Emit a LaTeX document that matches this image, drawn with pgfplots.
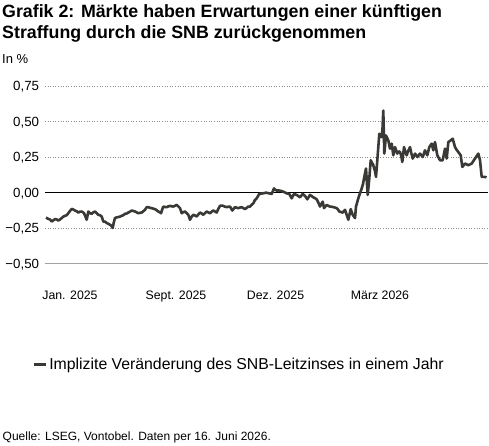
\documentclass[border=0pt]{standalone}
\usepackage{pgfplots}
\pgfplotsset{compat=1.18}
\usepackage{fontspec}
\setmainfont{Liberation Sans}
\definecolor{linegray}{HTML}{3B3936}
\definecolor{gridgray}{HTML}{8C8C8C}
\definecolor{basegray}{HTML}{A3A3A3}

% Implied one-year change of the SNB policy rate, in percentage points
\begin{document}
\begin{tikzpicture}
\useasboundingbox (0pt,0pt) rectangle (489pt,-445pt);
\node[anchor=base west,inner sep=0pt,font=\fontsize{17.8}{20}\bfseries] at (2pt,-17.3pt) {Grafik 2: Märkte haben Erwartungen einer künftigen};
\node[anchor=base west,inner sep=0pt,font=\fontsize{17.8}{20}\bfseries] at (2pt,-38pt) {Straffung durch die SNB zurückgenommen};
\node[anchor=base west,inner sep=0pt,font=\fontsize{13}{15}\selectfont] at (2pt,-63pt) {In \%};
\node[anchor=base west,inner sep=0pt,font=\fontsize{12}{14}\selectfont] at (2.5pt,-440pt) {Quelle: LSEG, Vontobel. Daten per 16. Juni 2026.};
\begin{axis}[
  at={(45pt,-263.5pt)}, anchor=south west,
  scale only axis, width=443pt, height=177.5pt,
  xmin=45, xmax=488, ymin=-0.5, ymax=0.75,
  axis line style={draw=none},
  clip=false,
  major tick length=0pt,
  ytick={-0.5,-0.25,0,0.25,0.5,0.75},
  yticklabels={{−0,50},{−0,25},{0,00},{0,25},{0,50},{0,75}},
  yticklabel style={font=\fontsize{13.3}{15}\selectfont, anchor=base east, inner sep=0pt, xshift=-5.7pt, yshift=-4.7pt},
  xtick={70,176,275.5,380},
  xticklabels={Jan. 2025,Sept. 2025,Dez. 2025,März 2026},
  xticklabel style={font=\fontsize{12.3}{14}\selectfont, anchor=base, inner sep=0pt, yshift=-35.8pt},
  legend style={draw=none, fill=none, at={(axis description cs:-0.029,-0.568)}, anchor=west,
    inner sep=0pt, font=\fontsize{15.8}{18}\selectfont},
  legend cell align=left,
  legend image code/.code={\draw[line width=3pt,linegray] (0pt,0pt) -- (12pt,0pt);},
]
% horizontal reference lines
\draw[gridgray, line width=0.6pt, dotted] (axis cs:45,0.75) -- (axis cs:488,0.75);
\draw[gridgray, line width=0.6pt, dotted] (axis cs:45,0.5) -- (axis cs:488,0.5);
\draw[gridgray, line width=0.6pt, dotted] (axis cs:45,0.25) -- (axis cs:488,0.25);
\draw[gridgray, line width=0.6pt, dotted] (axis cs:45,-0.25) -- (axis cs:488,-0.25);
\draw[basegray, line width=1.2pt] (axis cs:45,-0.5) -- (axis cs:488,-0.5);
\draw[black, line width=1.2pt] (axis cs:45,0) -- (axis cs:488,0);
\addplot[linegray, line width=2.6pt, line join=round, no markers] table {
x y
46 -0.176
48 -0.185
50 -0.19
51.7 -0.204
53.5 -0.195
55 -0.187
56.7 -0.19
58.3 -0.197
60 -0.19
61.7 -0.18
63.3 -0.17
65 -0.164
66.7 -0.16
68.3 -0.146
70 -0.13
71.7 -0.115
73.3 -0.12
75 -0.127
76.7 -0.132
78.3 -0.141
80 -0.135
81.7 -0.134
83 -0.14
84 -0.146
85.5 -0.17
86.7 -0.192
88.3 -0.134
90 -0.145
91.7 -0.15
93.3 -0.14
95 -0.134
96.7 -0.145
98.3 -0.157
100 -0.16
101.7 -0.169
103.3 -0.204
105 -0.205
106.7 -0.215
108.3 -0.22
110 -0.227
111.5 -0.235
112.7 -0.25
113.8 -0.21
115 -0.18
116.7 -0.175
118.3 -0.173
120 -0.17
121.7 -0.164
123.3 -0.16
125 -0.15
126.7 -0.148
128.3 -0.141
130 -0.135
131.7 -0.127
133.3 -0.13
135 -0.134
136.7 -0.14
138.3 -0.146
140 -0.143
141.7 -0.141
143.3 -0.132
145 -0.122
146.7 -0.103
148.3 -0.103
150 -0.108
151.7 -0.11
153.3 -0.114
155 -0.117
156.7 -0.125
158.3 -0.134
160 -0.14
161 -0.146
162.2 -0.12
163.3 -0.099
165 -0.102
166.7 -0.103
168.3 -0.098
170 -0.094
171.7 -0.097
173.3 -0.099
175 -0.093
176.7 -0.087
178.3 -0.098
180 -0.11
181.7 -0.146
183.3 -0.138
185 -0.134
186.7 -0.145
188.3 -0.157
190 -0.192
191.7 -0.17
193.3 -0.157
195 -0.162
196.7 -0.169
198.3 -0.155
200 -0.141
201.7 -0.148
203.3 -0.157
205 -0.145
206.7 -0.134
208.3 -0.14
210 -0.146
211.7 -0.135
213.3 -0.127
215 -0.134
216.7 -0.141
218.3 -0.115
220 -0.094
221.7 -0.092
223.3 -0.094
225 -0.1
226.7 -0.103
228.3 -0.1
230 -0.099
232.3 -0.127
235 -0.103
236.7 -0.107
238.3 -0.11
240 -0.106
241.7 -0.103
243.3 -0.11
245 -0.117
246.7 -0.108
248.3 -0.099
250 -0.099
251.7 -0.087
253.3 -0.076
255 -0.052
256.7 -0.041
258 -0.025
259.3 -0.01
261 -0.008
262.7 -0.006
264.3 -0.004
266 -0.001
267.7 -0.004
269.3 -0.006
271.7 -0.01
274 0.029
275.3 0.02
276.7 0.013
278.3 0.015
280 0.013
281.7 0.01
283.3 0.006
285 0.0
286.7 -0.006
289.3 -0.01
291.7 -0.041
294 -0.01
296.7 -0.017
298.3 -0.025
300 -0.034
302.7 -0.01
305 -0.024
307.3 -0.048
310 -0.017
311.7 -0.025
313.3 -0.034
315 -0.04
316.7 -0.048
318.3 -0.07
320 -0.099
322.7 -0.064
324 -0.11
326.7 -0.087
328.3 -0.094
330 -0.099
331.7 -0.1
333.3 -0.103
335 -0.106
336.7 -0.11
338 -0.12
339.3 -0.134
341 -0.138
342.7 -0.141
344 -0.13
345 -0.122
346.7 -0.157
348.3 -0.192
350.7 -0.117
352.7 -0.157
355 -0.18
356 -0.099
358.3 -0.041
360 -0.006
361.7 0.029
363 0.06
364 0.099
366 0.169
367.7 -0.017
369.3 0.099
370.7 0.227
372 0.21
373.3 0.192
375 0.15
376 0.11
377.3 0.227
378.3 0.32
379.3 0.414
380.5 0.4
381.7 0.39
382.5 0.45
383.3 0.577
384.3 0.274
386 0.402
388.3 0.367
390 0.309
391.7 0.344
393.3 0.262
395 0.32
396 0.3
397.3 0.274
398.7 0.29
400 0.285
401.2 0.26
402.3 0.215
404 0.32
405.3 0.29
406.7 0.262
408 0.29
409.3 0.309
410 0.32
411.2 0.28
412.7 0.239
415 0.274
417.3 0.25
420 0.274
422.7 0.25
425 0.297
427.3 0.262
429.3 0.32
431.7 0.344
433.3 0.297
435 0.355
437.3 0.262
440 0.227
442.7 0.227
445 0.309
446.7 0.239
448.3 0.355
450.7 0.367
452.7 0.379
455 0.32
456.7 0.3
458.3 0.285
460.7 0.262
462.3 0.18
465 0.204
468.3 0.192
471.7 0.204
475 0.239
478.3 0.274
480 0.227
481.7 0.11
485 0.11
486.5 0.106
};
\addlegendentry{Implizite Veränderung des SNB-Leitzinses in einem Jahr}
\end{axis}
\end{tikzpicture}
\end{document}
